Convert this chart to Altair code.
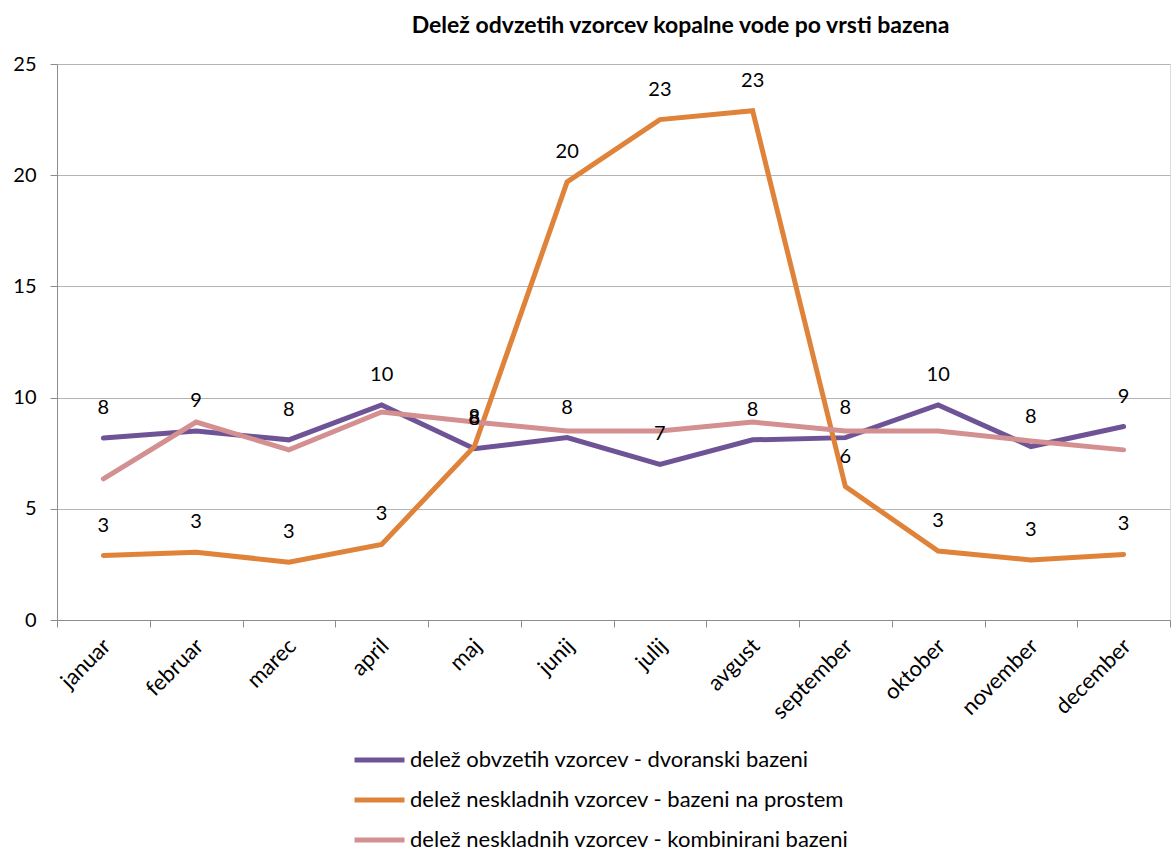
import altair as alt
import pandas as pd

months = ["januar", "februar", "marec", "april", "maj", "junij", "julij",
          "avgust", "september", "oktober", "november", "december"]
series_names = [
    "delež obvzetih vzorcev - dvoranski bazeni",
    "delež neskladnih vzorcev - bazeni na prostem",
    "delež neskladnih vzorcev - kombinirani bazeni",
]
dvoranski = [8.18, 8.5, 8.1, 9.67, 7.7, 8.2, 7.0, 8.1, 8.2, 9.67, 7.8, 8.7]
prostem = [2.9, 3.05, 2.6, 3.4, 7.8, 19.7, 22.5, 22.9, 6.0, 3.1, 2.7, 2.95]
kombinirani = [6.35, 8.9, 7.65, 9.35, 8.9, 8.5, 8.5, 8.9, 8.5, 8.5, 8.05, 7.65]
colors = ["#6E5496", "#E0833A", "#D49090"]
labelled = [True, True, False]

rows = []
for name, vals, lab in zip(series_names, [dvoranski, prostem, kombinirani], labelled):
    for m, v in zip(months, vals):
        rows.append({"mesec": m, "vrednost": v, "serija": name, "oznaka": lab})
df = pd.DataFrame(rows)

FONT = "Lato"

x_enc = alt.X(
    "mesec:N", sort=months, title=None,
    scale=alt.Scale(type="band", paddingInner=0, paddingOuter=0),
    axis=alt.Axis(labelAngle=-45, labelAlign="right", labelBaseline="top",
                  labelPadding=8, labelOffset=-4, labelFontSize=22, labelFont=FONT,
                  labelColor="#000000",
                  tickBand="extent", ticks=True, tickSize=7, tickColor="#8C8C8C",
                  domainColor="#8C8C8C", grid=False),
)
y_enc = alt.Y(
    "vrednost:Q", title=None,
    scale=alt.Scale(domain=[0, 25], nice=False, zero=True),
    axis=alt.Axis(values=[0, 5, 10, 15, 20, 25], labelFontSize=20, labelFont=FONT,
                  labelColor="#000000", labelPadding=14, tickSize=7, tickColor="#8C8C8C",
                  domainColor="#8C8C8C", gridColor="#B4B4B4", gridWidth=1),
)
color_enc = alt.Color(
    "serija:N", title=None,
    scale=alt.Scale(domain=series_names, range=colors),
    legend=alt.Legend(orient="none", legendX=295, legendY=685, direction="vertical",
                      symbolType="stroke", symbolSize=2500, symbolStrokeWidth=5,
                      labelFontSize=22, labelFont=FONT, labelColor="#000000",
                      labelLimit=700, labelOffset=3, clipHeight=22, rowPadding=18,
                      symbolOffset=0),
)

base = alt.Chart(df)
layers = []
for name in series_names:
    layers.append(
        base.transform_filter(alt.datum.serija == name)
        .mark_line(strokeWidth=5, strokeCap="round", strokeJoin="miter")
        .encode(x=x_enc, y=y_enc, color=color_enc)
    )

labels = (
    base.transform_filter(alt.datum.oznaka == True)
    .transform_calculate(t="format(round(datum.vrednost), 'd')")
    .mark_text(dy=-30, fontSize=20, font=FONT, color="#000000")
    .encode(x=alt.X("mesec:N", sort=months), y=alt.Y("vrednost:Q"), text="t:N")
)

chart = (
    alt.layer(*layers, labels)
    .properties(
        width=1113, height=556,
        title=alt.TitleParams("Delež odvzetih vzorcev kopalne vode po vrsti bazena",
                              font=FONT, fontSize=23, fontWeight="bold", color="#000000",
                              anchor="middle", dx=67, offset=16),
        autosize=alt.AutoSizeParams(type="none"),
        padding={"left": 57, "top": 64, "right": 3, "bottom": 231},
    )
    .configure_view(stroke=None)
    .configure(background="white")
)

chart.save("out.html", embed_options={"renderer": "svg", "actions": False})
